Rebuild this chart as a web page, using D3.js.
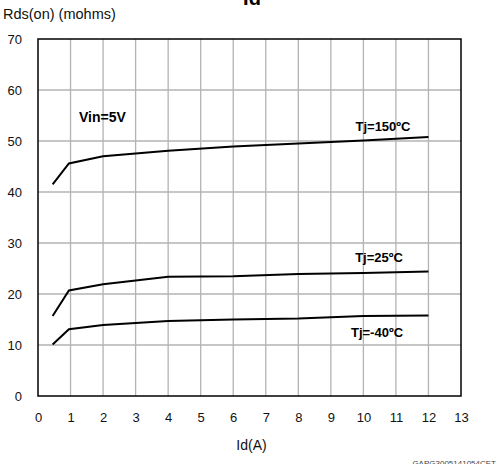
<!DOCTYPE html>
<html>
<head>
<meta charset="utf-8">
<script src="https://cdn.jsdelivr.net/npm/d3@7"></script>
<style>
  body { margin: 0; background: #fff; }
  svg { display: block; font-family: "Liberation Sans", Arial, sans-serif; }
</style>
</head>
<body>
<div id="chart"></div>
<script>
// Rds(on) vs drain current, three junction temperatures
const idAmps = [0.45, 0.95, 2, 4, 6, 8, 10, 12];
const rds150 = [41.5, 45.6, 47.0, 48.1, 48.9, 49.5, 50.1, 50.8];
const rds25 = [15.7, 20.7, 21.9, 23.4, 23.5, 23.9, 24.1, 24.4];
const rdsM40 = [10.1, 13.1, 13.9, 14.7, 15.0, 15.2, 15.7, 15.8];
const curveLabels = ['Tj=150ºC', 'Tj=25ºC', 'Tj=-40ºC'];
const xTicks = d3.range(0, 14);
const yTicks = d3.range(0, 80, 10);

const W = 498, H = 464;
const margin = {top: 39, right: 37, bottom: 68, left: 38};

const svg = d3.select('#chart').append('svg')
  .attr('width', W)
  .attr('height', H);

const x = d3.scaleLinear([0, 13], [margin.left, W - margin.right]);
const y = d3.scaleLinear([0, 70], [H - margin.bottom, margin.top]);

// grid
svg.append('g')
    .attr('stroke', '#b3b3b3')
    .attr('stroke-width', 1.3)
  .selectAll('line.v')
  .data(xTicks.slice(1, -1))
  .join('line')
    .attr('x1', d => x(d)).attr('x2', d => x(d))
    .attr('y1', y(0)).attr('y2', y(70));

svg.append('g')
    .attr('stroke', '#b3b3b3')
    .attr('stroke-width', 1.3)
  .selectAll('line.h')
  .data(yTicks.slice(1, -1))
  .join('line')
    .attr('x1', x(0)).attr('x2', x(13))
    .attr('y1', d => y(d)).attr('y2', d => y(d));

// frame
svg.append('rect')
  .attr('x', x(0)).attr('y', y(70))
  .attr('width', x(13) - x(0))
  .attr('height', y(0) - y(70))
  .attr('fill', 'none')
  .attr('stroke', '#000')
  .attr('stroke-width', 1.5);

// axes (labels only)
const xAxis = svg.append('g')
  .attr('transform', `translate(0,${y(0)})`)
  .call(d3.axisBottom(x).tickValues(xTicks).tickSize(0).tickPadding(17).tickFormat(d3.format('d')));
const yAxis = svg.append('g')
  .attr('transform', `translate(${x(0)},0)`)
  .call(d3.axisLeft(y).tickValues(yTicks).tickSize(0).tickPadding(16).tickFormat(d3.format('d')));
[xAxis, yAxis].forEach(a => {
  a.select('.domain').remove();
  a.selectAll('text')
    .attr('font-size', 13)
    .attr('font-family', '"Liberation Sans", Arial, sans-serif')
    .attr('fill', '#111');
});

// curves
const line = d3.line()
  .x((d, i) => x(idAmps[i]))
  .y(d => y(d));

svg.append('g')
    .attr('fill', 'none')
    .attr('stroke', '#000')
    .attr('stroke-width', 2)
  .selectAll('path')
  .data([rds150, rds25, rdsM40])
  .join('path')
    .attr('d', line);

// curve labels
const labelPos = [
  {x: 383, y: 131},
  {x: 379, y: 262},
  {x: 377, y: 337}
];
svg.append('g')
    .attr('font-size', 13)
    .attr('font-weight', 'bold')
    .attr('text-anchor', 'middle')
  .selectAll('text')
  .data(curveLabels)
  .join('text')
    .attr('x', (d, i) => labelPos[i].x)
    .attr('y', (d, i) => labelPos[i].y)
    .text(d => d);

svg.append('text')
  .attr('x', 79).attr('y', 122)
  .attr('font-size', 14)
  .attr('font-weight', 'bold')
  .text('Vin=5V');

// titles
svg.append('text')
  .attr('x', 252).attr('y', 5)
  .attr('text-anchor', 'middle')
  .attr('font-size', 20)
  .attr('font-weight', 'bold')
  .text('Id');

svg.append('text')
  .attr('x', 3).attr('y', 19)
  .attr('font-size', 14.5)
  .attr('fill', '#111')
  .text('Rds(on) (mohms)');

svg.append('text')
  .attr('x', (x(0) + x(13)) / 2 + 2).attr('y', 450)
  .attr('text-anchor', 'middle')
  .attr('font-size', 14)
  .attr('fill', '#111')
  .text('Id(A)');

svg.append('text')
  .attr('x', 496).attr('y', 466)
  .attr('text-anchor', 'end')
  .attr('font-size', 8)
  .attr('fill', '#444')
  .text('GAPG3005141054CET');
</script>
</body>
</html>
